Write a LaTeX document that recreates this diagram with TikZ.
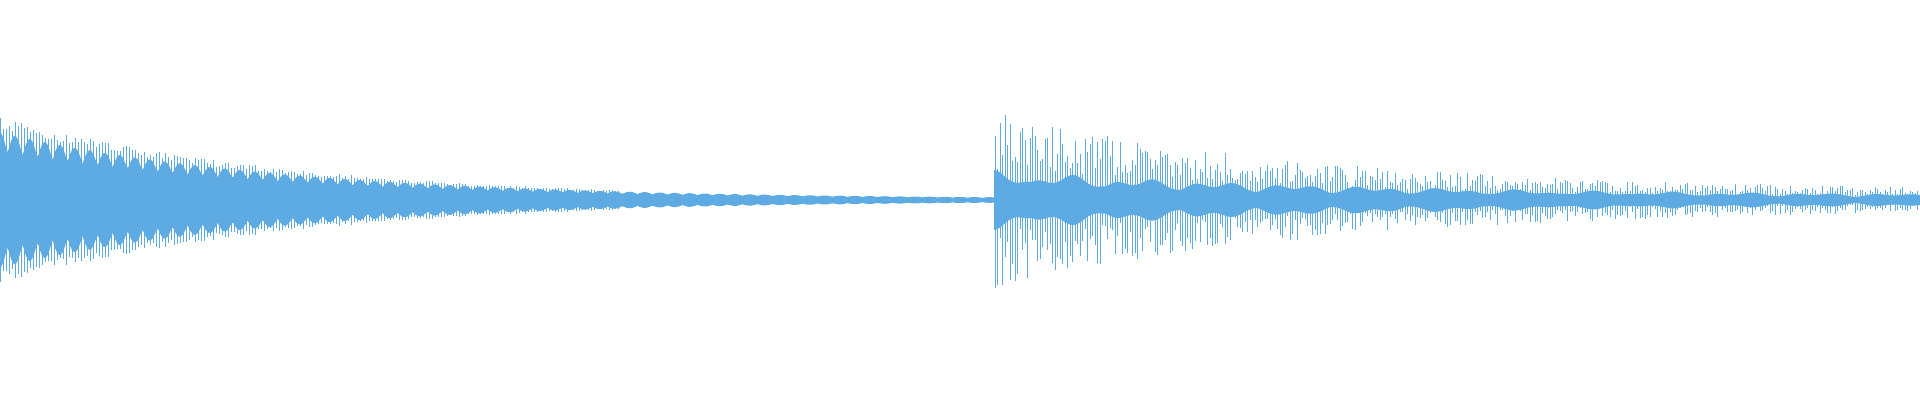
\documentclass[tikz,border=0pt]{standalone}
\definecolor{wave}{HTML}{5DABE2}
\begin{document}
\begin{tikzpicture}[x=1pt,y=1pt,wv/.style={wave,line width=0.5pt}]
\useasboundingbox (0,0) rectangle (1920,400);
\pgfmathsetseed{7}
\fill[wave] plot[domain=0:994,samples=700] (\x,{200+67*exp(-\x/290)*(0.7+0.3*abs(cos(\x*12)))+0.6})
  -- plot[domain=994:0,samples=700] (\x,{200-67*exp(-\x/290)*(0.7+0.3*abs(cos(\x*12)))-0.6}) -- cycle;
\foreach \i in {0,3,...,620}{
  \pgfmathsetmacro{\a}{67*exp(-\i/290)*(1.05+0.2*rnd)}
  \draw[wv,line width=0.3pt] (\i,200-\a) -- (\i,200+\a);
}
\fill[wave] plot[domain=994:1920,samples=700] (\x,{200+(4+26*exp(-(\x-994)/380))*(0.65+0.35*abs(cos((\x-994)*2.4)))*(0.85+0.15*cos((\x-994)*9))})
  -- plot[domain=1920:994,samples=700] (\x,{200-(4+26*exp(-(\x-994)/380))*(0.65+0.35*abs(cos((\x-994)*2.4)))*(0.85+0.15*cos((\x-994)*9))}) -- cycle;
\foreach \i in {995,997.5,...,1920}{
  \pgfmathsetmacro{\a}{(8+80*exp(-(\i-994)/330))*(0.35+0.65*rnd)}
  \pgfmathsetmacro{\b}{(8+80*exp(-(\i-994)/330))*(0.35+0.65*rnd)}
  \draw[wv,line width=0.35pt] (\i,200-\a) -- (\i,200+\b);
}
\end{tikzpicture}
\end{document}
